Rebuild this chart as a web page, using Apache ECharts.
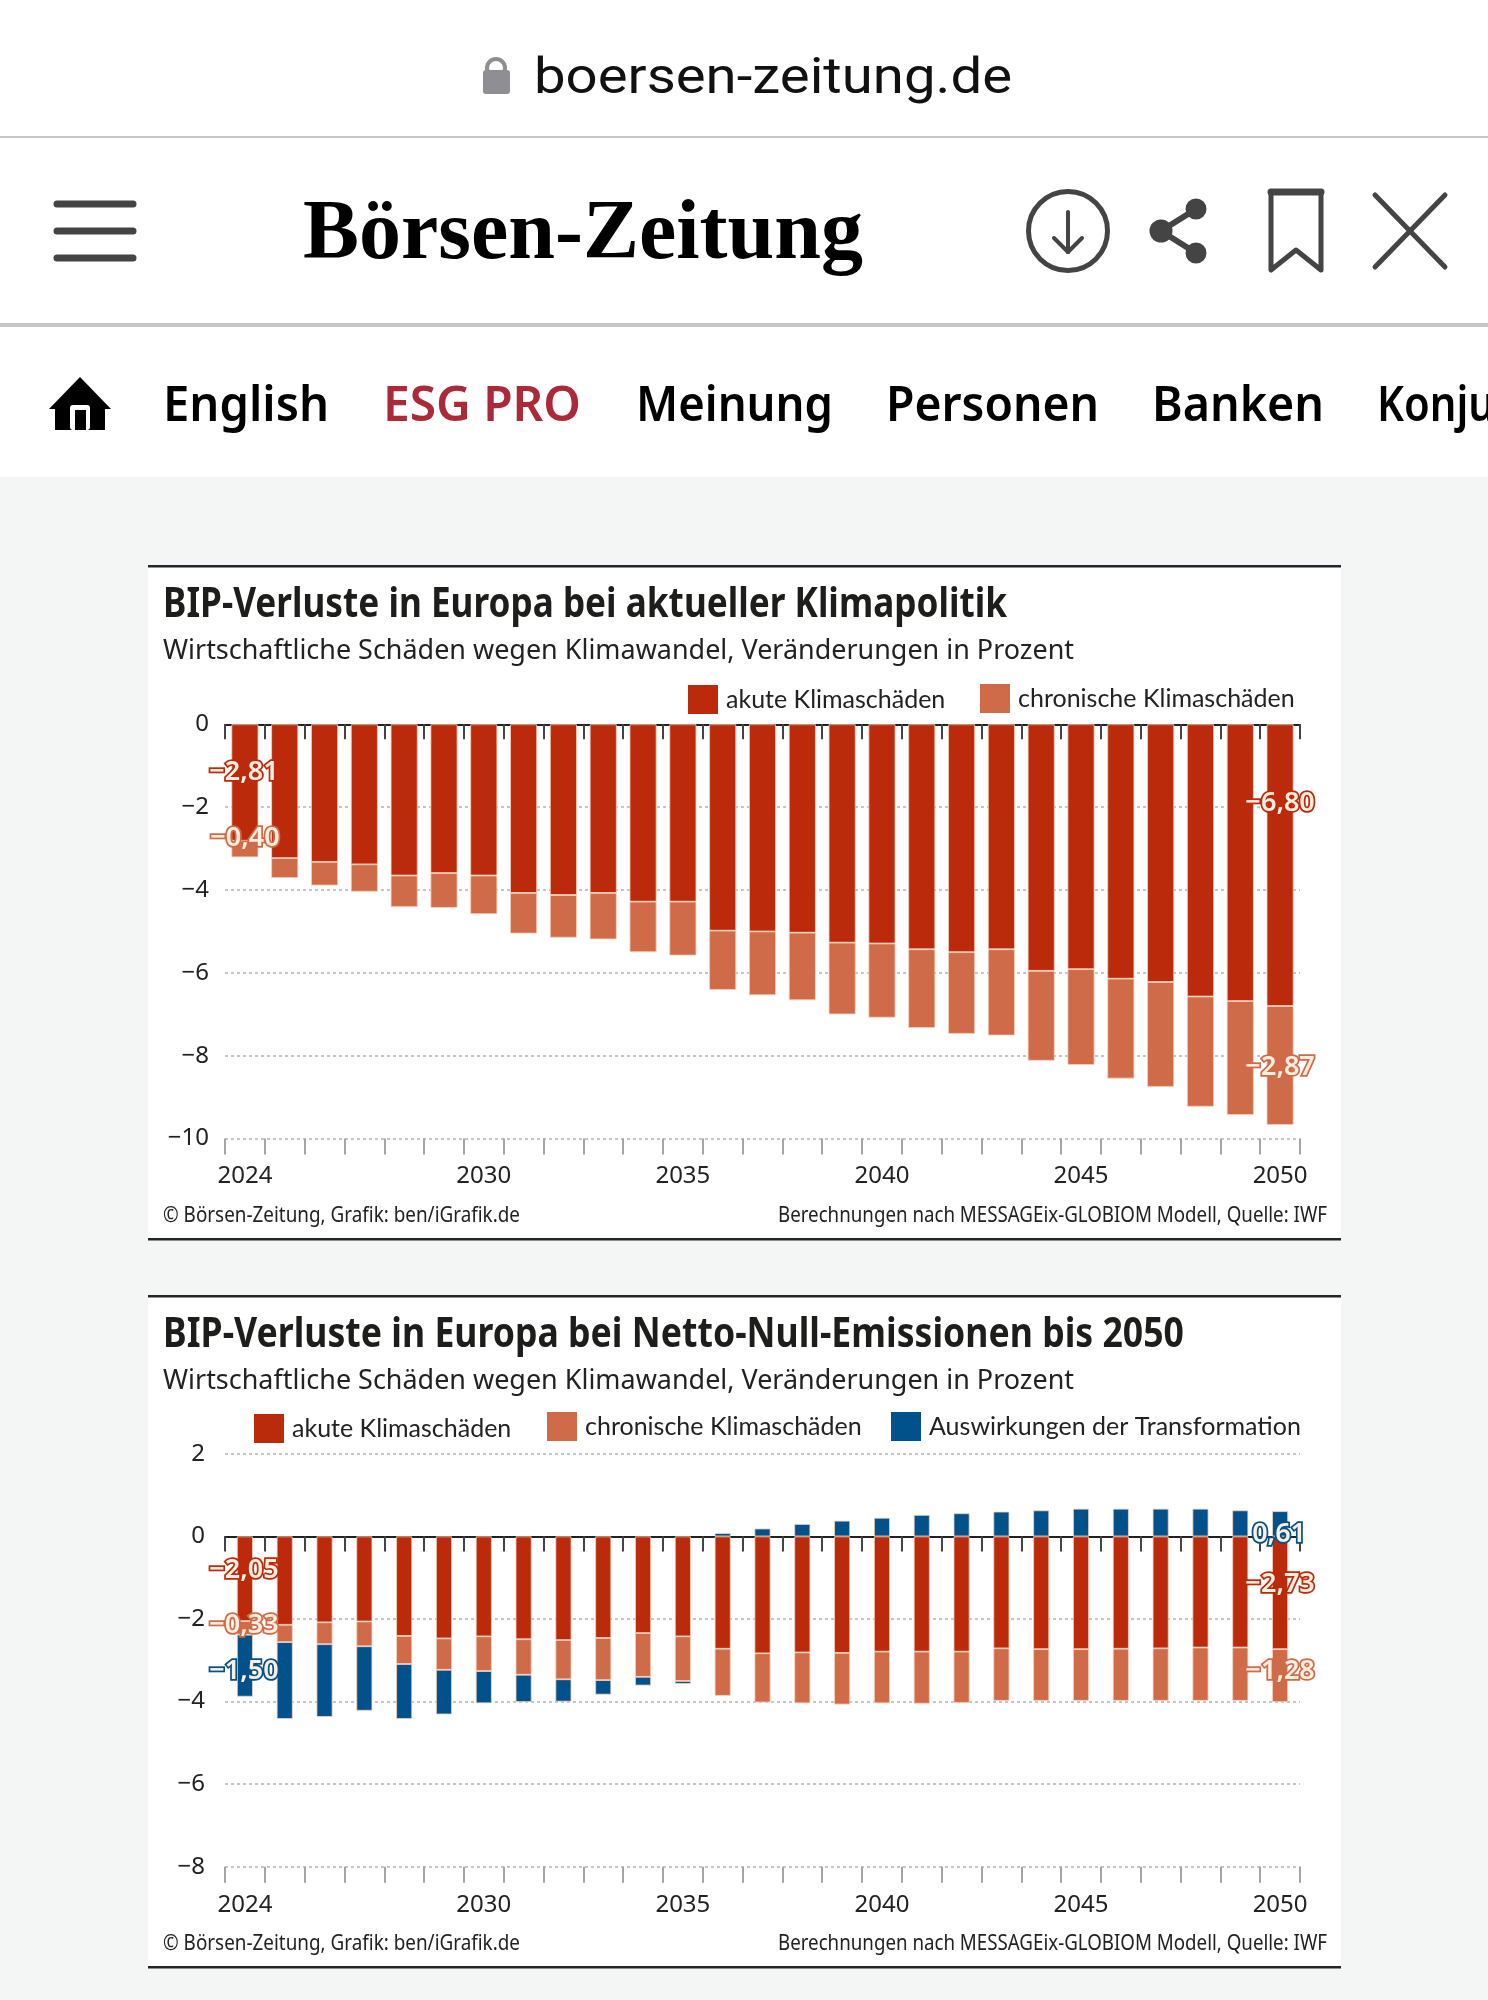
<!DOCTYPE html>
<html>
<head>
<meta charset="utf-8">
<style>html,body{margin:0;padding:0;background:#f4f5f5}#c{width:1488px;height:2000px}</style>
<script src="https://cdn.jsdelivr.net/npm/echarts@6/dist/echarts.min.js"></script>
</head>
<body>
<div id="c"></div>
<script>
const years = [2024,2025,2026,2027,2028,2029,2030,2031,2032,2033,2034,2035,2036,2037,2038,2039,2040,2041,2042,2043,2044,2045,2046,2047,2048,2049,2050];
const xLabelYears = [2024,2030,2035,2040,2045,2050];
const yTicksTop = [0,-2,-4,-6,-8,-10];
const yTicksBottom = [2,0,-2,-4,-6,-8];

const acuteTop = [-2.81,-3.23,-3.32,-3.38,-3.65,-3.59,-3.65,-4.07,-4.12,-4.07,-4.28,-4.28,-4.98,-5.00,-5.03,-5.27,-5.29,-5.43,-5.50,-5.43,-5.95,-5.91,-6.14,-6.22,-6.57,-6.68,-6.80];
const chronicTop = [-0.40,-0.48,-0.57,-0.66,-0.76,-0.84,-0.93,-0.98,-1.03,-1.12,-1.22,-1.30,-1.43,-1.54,-1.63,-1.73,-1.79,-1.90,-1.97,-2.08,-2.17,-2.31,-2.41,-2.53,-2.66,-2.75,-2.87];

const acuteBottom = [-2.05,-2.14,-2.08,-2.06,-2.41,-2.47,-2.42,-2.49,-2.51,-2.46,-2.34,-2.42,-2.72,-2.83,-2.81,-2.82,-2.79,-2.79,-2.79,-2.71,-2.73,-2.73,-2.72,-2.71,-2.69,-2.69,-2.73];
const chronicBottom = [-0.33,-0.42,-0.53,-0.60,-0.68,-0.76,-0.84,-0.86,-0.95,-1.02,-1.06,-1.08,-1.14,-1.19,-1.23,-1.25,-1.25,-1.26,-1.24,-1.27,-1.25,-1.25,-1.26,-1.27,-1.29,-1.29,-1.28];
const transformBottom = [-1.50,-1.86,-1.76,-1.56,-1.33,-1.08,-0.78,-0.66,-0.54,-0.35,-0.21,-0.07,0.08,0.19,0.30,0.38,0.45,0.52,0.56,0.60,0.63,0.67,0.67,0.67,0.67,0.63,0.61];

const nameAcute = 'akute Klimaschäden';
const nameChronic = 'chronische Klimaschäden';
const nameTransform = 'Auswirkungen der Transformation';
const colAcute = '#ba2a0b', colChronic = '#cf6b48', colTransform = '#01528b';
const INK = '#1d1d1b';
const SANS = '"Noto Sans", sans-serif';

const measure = document.createElement('canvas').getContext('2d');
function fit(text, font, width) { measure.font = font; return width / measure.measureText(text).width; }
function T(text, x, baseline, size, weight, family, width, fill, align) {
  const font = `${weight} ${size}px ${family}`;
  return { type:'text', silent:true, x:x, y:baseline - 0.33*size, z:10, scaleX: width ? fit(text,font,width) : 0.87,
    style:{ text, x:0, y:0, font, fill:fill||INK, textAlign:align||'left', textVerticalAlign:'middle' } };
}
function R(x,y,w,h,fill,z,r){ return {type:'rect',silent:true,z:z||1,shape:{x,y,width:w,height:h,r:r||0},style:{fill}}; }
function L(x1,y1,x2,y2,w,col){ return {type:'line',silent:true,z:10,shape:{x1,y1,x2,y2},style:{stroke:col||'#444',lineWidth:w,lineCap:'round'}}; }

const HEAD = [
  R(0,0,1488,477,'#ffffff',0),
  R(0,136,1488,2,'#c8c8c8',1),
  R(0,323,1488,4,'#c6c6c6',1),
  // address bar
  {type:'circle',silent:true,z:10,shape:{cx:496,cy:68,r:9},style:{fill:'none',stroke:'#8e8e93',lineWidth:4}},
  R(483,70,27,24,'#8e8e93',10,3),
  T('boersen-zeitung.de',534,97,50,'400','Roboto, sans-serif',478,'#111'),
  // hamburger
  L(57,204,133,204,7), L(57,231,133,231,7), L(57,258,133,258,7),
  T('Börsen-Zeitung',303,264,84,'700','"Liberation Serif", serif',560,'#000'),
  // download
  {type:'circle',silent:true,z:10,shape:{cx:1068,cy:231,r:39.5},style:{fill:'none',stroke:'#444',lineWidth:5}},
  L(1068,212,1068,252,4), L(1054,238,1068,252,4), L(1082,238,1068,252,4),
  // share
  L(1196,209,1161,231,6), L(1161,231,1196,253,6),
  {type:'circle',silent:true,z:10,shape:{cx:1196,cy:209,r:10.5},style:{fill:'#444'}},
  {type:'circle',silent:true,z:10,shape:{cx:1161,cy:231,r:11.5},style:{fill:'#444'}},
  {type:'circle',silent:true,z:10,shape:{cx:1196,cy:253,r:10.5},style:{fill:'#444'}},
  // bookmark
  {type:'polygon',silent:true,z:10,shape:{points:[[1271,270],[1271,192],[1321,192],[1321,270],[1296,250]]},style:{fill:'none',stroke:'#444',lineWidth:5,lineJoin:'round'}},
  L(1271,192,1321,192,7),
  // close
  L(1375,195,1445,267,5), L(1445,195,1375,267,5),
  // home
  {type:'polygon',silent:true,z:10,shape:{points:[[80,377],[111,409],[105,409],[105,430],[55,430],[55,409],[49,409]]},style:{fill:'#000'}},
  R(70,405,20,25,'#ffffff',11,3), R(75,410,11,20,'#000000',12),
  // navigation
  T('English',163,423,48,'600',SANS,166,'#000'),
  T('ESG PRO',383,423,48,'600',SANS,198,'#ab2a3a'),
  T('Meinung',636,423,48,'600',SANS,197,'#000'),
  T('Personen',886,423,48,'600',SANS,213,'#000'),
  T('Banken',1152,423,48,'600',SANS,172,'#000'),
  T('Konjunktur',1377,423,48,'600',SANS,0,'#000')
];

function panel(top, bottom, title, titleWidth) {
  return [
    R(148,top,1193,bottom-top,'#ffffff',1),
    R(148,top-1,1193,2.5,'#26262a',2),
    R(148,bottom-1,1193,2.5,'#26262a',2),
    T(title,163,top+53,42,'700',SANS,titleWidth,INK),
    T('Wirtschaftliche Schäden wegen Klimawandel, Veränderungen in Prozent',163,top+94,28,'400',SANS,911,'#222'),
    T('© Börsen-Zeitung, Grafik: ben/iGrafik.de',163,bottom-16,21,'400',SANS,357,'#222'),
    T('Berechnungen nach MESSAGEix-GLOBIOM Modell, Quelle: IWF',778,bottom-16,21,'400',SANS,549,'#222')
  ];
}
const PANELS = [
  ...panel(566,1239,'BIP-Verluste in Europa bei aktueller Klimapolitik',844),
  ...panel(1296,1967,'BIP-Verluste in Europa bei Netto-Null-Emissionen bis 2050',1021)
];

const LABEL_INK = '#fdeee0';
function fmt(v){ return v.toFixed(2).replace('-','−').replace('.',','); }
function withLabels(values, color, spec) {
  return values.map((v,i) => spec[i] !== undefined ? {
    value:v,
    label:{ show:true, position:'inside', offset:[spec[i][0],spec[i][1]], color:LABEL_INK, fontFamily:SANS, fontWeight:600, fontSize:27,
      textBorderColor:color, textBorderWidth:3.5, formatter:() => fmt(v) }
  } : v);
}
function bars(name, values, color, gridIdx, width, spec) {
  return { type:'bar', name, stack:'s'+gridIdx, xAxisIndex:gridIdx*2, yAxisIndex:gridIdx, barWidth:width,
    data:withLabels(values,color,spec),
    itemStyle:{ color, borderColor:'#f8d2bb', borderWidth:0.8 }, emphasis:{disabled:true}, z:4 };
}
function xAxes(gridIndex) {
  const base = { type:'category', gridIndex, z:3, data:years, boundaryGap:true, splitLine:{show:false} };
  return [
    { ...base, position:'top', axisLine:{show:true,onZero:true,lineStyle:{color:'#222',width:2}},
      axisTick:{show:true,inside:true,interval:0,length:15,lineStyle:{color:'#444',width:2}}, axisLabel:{show:false} },
    { ...base, position:'bottom', axisLine:{show:false,onZero:false},
      axisTick:{show:true,interval:0,length:16,lineStyle:{color:'#a5a5a5',width:2}},
      axisLabel:{ show:true, margin:26, fontFamily:SANS, fontSize:24, color:'#222',
        interval:(i,v) => xLabelYears.includes(+v) } }
  ];
}
function yAxis(gridIndex, ticks, margin, pad) {
  return { type:'value', gridIndex, z:3, min:ticks[ticks.length-1], max:ticks[0], interval:2,
    axisLine:{show:false}, axisTick:{show:false},
    splitLine:{show:true,lineStyle:{color:'#b4b4b4',type:[3,3],width:1.5}},
    axisLabel:{ margin, fontFamily:SANS, fontSize:24, color:'#222', padding:[0,0,pad,0],
      formatter:v => String(v).replace('-','−') } };
}
function legend(name, left, top) {
  return { show:true, data:[name], left, top, orient:'horizontal', padding:0, selectedMode:false, icon:'rect', itemWidth:30, itemHeight:29, itemStyle:{borderWidth:0},
    textStyle:{ fontFamily:'Lato, sans-serif', fontSize:25, color:'#222', padding:[6,0,0,3] } };
}

const option = {
  animation:false,
  backgroundColor:'#f4f5f5',
  textStyle:{fontFamily:SANS},
  graphic:{ elements:[...HEAD,...PANELS] },
  legend:[
    legend(nameAcute,688,685),
    legend(nameChronic,980,684),
    legend(nameAcute,254,1414),
    legend(nameChronic,547,1412),
    legend(nameTransform,891,1412)
  ],
  grid:[
    {left:225,width:1075,top:724.3,height:414.3},
    {left:225,width:1075,top:1453.8,height:413}
  ],
  xAxis:[...xAxes(0),...xAxes(1)],
  yAxis:[yAxis(0,yTicksTop,16,8),yAxis(1,yTicksBottom,20,0)],
  series:[
    bars(nameAcute,acuteTop,colAcute,0,27,{0:[-1,-10],26:[0,-62]}),
    bars(nameChronic,chronicTop,colChronic,0,27,{0:[0,-11],26:[0,2]}),
    bars(nameAcute,acuteBottom,colAcute,1,16,{0:[-1,-8],26:[0,-8]}),
    bars(nameChronic,chronicBottom,colChronic,1,16,{0:[-1,-3],26:[0,-4]}),
    bars(nameTransform,transformBottom,colTransform,1,16,{0:[-1,6],26:[-1,11]})
  ]
};
echarts.init(document.getElementById('c')).setOption(option);
</script>
</body>
</html>
